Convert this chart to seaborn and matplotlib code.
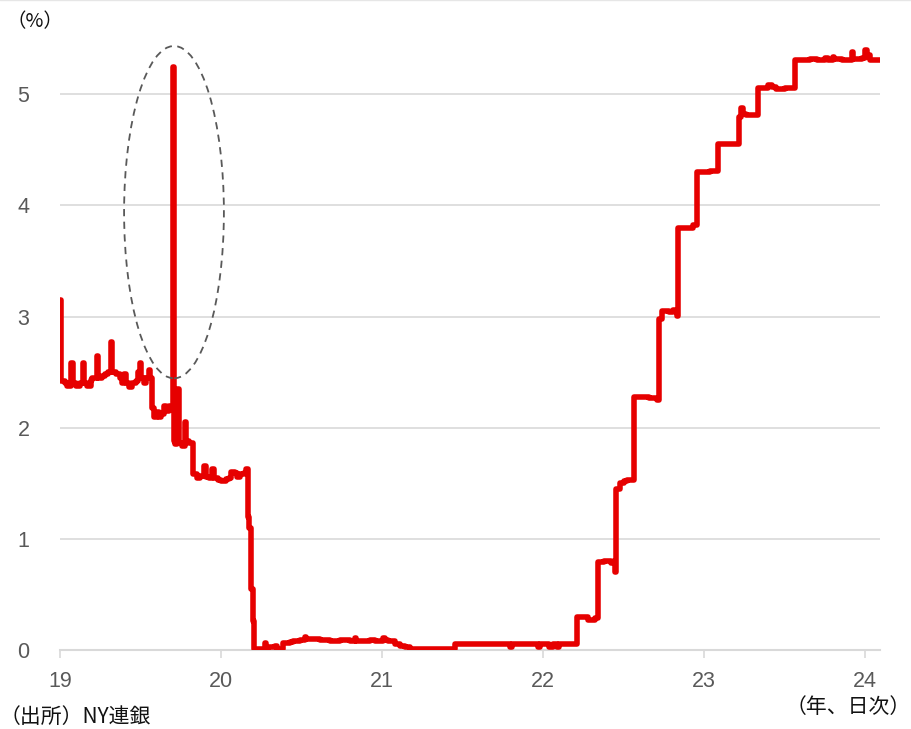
import matplotlib
matplotlib.use("Agg")
import matplotlib.pyplot as plt
from matplotlib.patches import Ellipse
from matplotlib.lines import Line2D
import pandas as pd
import seaborn as sns

# Secured overnight rate (SOFR), daily, step points: time in two-digit decimal years
t = [
    19.000, 19.006, 19.030, 19.045, 19.070, 19.080, 19.100, 19.125, 19.140, 19.150,
    19.170, 19.190, 19.200, 19.228, 19.238, 19.260, 19.280, 19.300, 19.315, 19.325,
    19.345, 19.370, 19.385, 19.400, 19.410, 19.430, 19.450, 19.470, 19.485, 19.495,
    19.505, 19.520, 19.535, 19.550, 19.560, 19.572, 19.585, 19.600, 19.615, 19.630,
    19.645, 19.660, 19.675, 19.700, 19.706, 19.714, 19.728, 19.738, 19.755, 19.775,
    19.783, 19.800, 19.826, 19.850, 19.870, 19.895, 19.905, 19.925, 19.945, 19.955,
    19.980, 20.000, 20.030, 20.050, 20.065, 20.085, 20.100, 20.120, 20.140, 20.155,
    20.166, 20.176, 20.186, 20.196, 20.205, 20.273, 20.280, 20.290, 20.335, 20.345,
    20.366, 20.385, 20.430, 20.447, 20.490, 20.520, 20.530, 20.550, 20.615, 20.677,
    20.740, 20.800, 20.830, 20.840, 20.863, 20.925, 20.957, 21.006, 21.016, 21.037,
    21.080, 21.110, 21.143, 21.174, 21.453, 21.795, 21.810, 21.970, 21.980, 22.040,
    22.060, 22.087, 22.100, 22.211, 22.280, 22.320, 22.340, 22.380, 22.420, 22.440,
    22.450, 22.455, 22.480, 22.500, 22.520, 22.565, 22.620, 22.660, 22.710, 22.720,
    22.740, 22.780, 22.810, 22.830, 22.840, 22.900, 22.930, 22.955, 23.000, 23.040,
    23.087, 23.120, 23.160, 23.220, 23.230, 23.240, 23.260, 23.300, 23.335, 23.380,
    23.400, 23.420, 23.450, 23.500, 23.565, 23.620, 23.660, 23.700, 23.750, 23.770,
    23.800, 23.810, 23.860, 23.918, 23.928, 23.980, 24.000, 24.012, 24.030, 24.093,
]
sofr = [
    3.15, 2.42, 2.40, 2.38, 2.58, 2.40, 2.38, 2.40, 2.58, 2.40,
    2.38, 2.43, 2.45, 2.65, 2.45, 2.47, 2.48, 2.50, 2.77, 2.50,
    2.48, 2.45, 2.40, 2.48, 2.40, 2.37, 2.40, 2.42, 2.50, 2.58,
    2.45, 2.40, 2.45, 2.52, 2.45, 2.18, 2.10, 2.14, 2.10, 2.12,
    2.20, 2.15, 2.20, 5.25, 1.88, 1.85, 2.35, 1.86, 1.84, 2.05,
    1.88, 1.86, 1.58, 1.55, 1.57, 1.66, 1.56, 1.55, 1.63, 1.55,
    1.53, 1.52, 1.54, 1.55, 1.60, 1.59, 1.56, 1.58, 1.59, 1.63,
    1.20, 1.10, 0.55, 0.26, 0.01, 0.06, 0.02, 0.03, 0.04, 0.01,
    0.01, 0.06, 0.07, 0.08, 0.09, 0.12, 0.10, 0.10, 0.09, 0.08,
    0.09, 0.08, 0.11, 0.08, 0.08, 0.09, 0.08, 0.11, 0.09, 0.08,
    0.05, 0.04, 0.03, 0.01, 0.05, 0.03, 0.05, 0.03, 0.05, 0.03,
    0.05, 0.03, 0.05, 0.30, 0.27, 0.29, 0.79, 0.80, 0.78, 0.80,
    0.70, 1.45, 1.50, 1.52, 1.53, 2.28, 2.28, 2.27, 2.25, 2.98,
    3.05, 3.04, 3.06, 3.01, 3.80, 3.80, 3.82, 4.30, 4.30, 4.31,
    4.55, 4.55, 4.55, 4.80, 4.88, 4.82, 4.81, 4.81, 5.06, 5.06,
    5.08, 5.07, 5.05, 5.06, 5.31, 5.31, 5.32, 5.31, 5.33, 5.31,
    5.34, 5.32, 5.31, 5.38, 5.32, 5.33, 5.40, 5.35, 5.31, 5.31,
]

x_ticks = [19, 20, 21, 22, 23, 24]
x_tick_labels = ["19", "20", "21", "22", "23", "24"]
y_ticks = [0, 1, 2, 3, 4, 5]

df = pd.DataFrame({"year": t, "rate": sofr})

sns.set_theme(style="white")
plt.rcParams["font.family"] = ["Liberation Sans", "Noto Sans CJK JP", "DejaVu Sans"]

fig = plt.figure(figsize=(9.11, 7.29), dpi=100)
ax = fig.add_axes([60 / 911, 79 / 729, 820 / 911, 611.2 / 729])

grid_c = "#d9d9d9"
text_c = "#595959"

for yv in y_ticks[1:]:
    ax.axhline(yv, color=grid_c, lw=1.2, zorder=0)

sns.lineplot(data=df, x="year", y="rate", ax=ax, color="#e60000", lw=4.0,
             drawstyle="steps-post", estimator=None, sort=False,
             solid_capstyle="round", solid_joinstyle="round", zorder=3)

# Dashed ring around the September 2019 repo-market spike
ax.add_patch(Ellipse((19.708, 3.94), 0.62, 2.99, fill=False, ls=(0, (4, 3)),
                     lw=1.3, edgecolor="#595959", zorder=4))

ax.set_xlim(19, 24.093)
ax.set_ylim(0, 5.5)
ax.set_xticks(x_ticks)
ax.set_xticklabels(x_tick_labels)
ax.set_yticks(y_ticks)
ax.set_xlabel("")
ax.set_ylabel("")

for s in ["top", "right", "left"]:
    ax.spines[s].set_visible(False)
ax.spines["bottom"].set_color(grid_c)
ax.spines["bottom"].set_linewidth(1.5)
ax.spines["bottom"].set_zorder(1)

ax.tick_params(axis="x", which="major", bottom=True, length=6, width=1.2,
               color=grid_c, labelsize=15.5, labelcolor=text_c, pad=9)
ax.tick_params(axis="y", which="major", left=False, length=0,
               labelsize=15.5, labelcolor=text_c, pad=22)

cjk = ["Noto Sans CJK JP", "DejaVu Sans"]
fig.text(6 / 911, 1 - 22 / 729, "（%）", family=cjk, fontsize=14,
         color="#111111", ha="left", va="center")
fig.text(0 / 911, 1 - 717 / 729, "（出所）NY連銀", family=cjk, fontsize=15,
         color="#111111", ha="left", va="center")
fig.text(911 / 911, 1 - 707 / 729, "（年、日次）", family=cjk, fontsize=15,
         color="#111111", ha="right", va="center")

fig.add_artist(Line2D([0, 1], [0.9995, 0.9995], transform=fig.transFigure,
                      color="#e6e6e6", lw=1.0))

fig.savefig("out.png", dpi=100, facecolor="white")
